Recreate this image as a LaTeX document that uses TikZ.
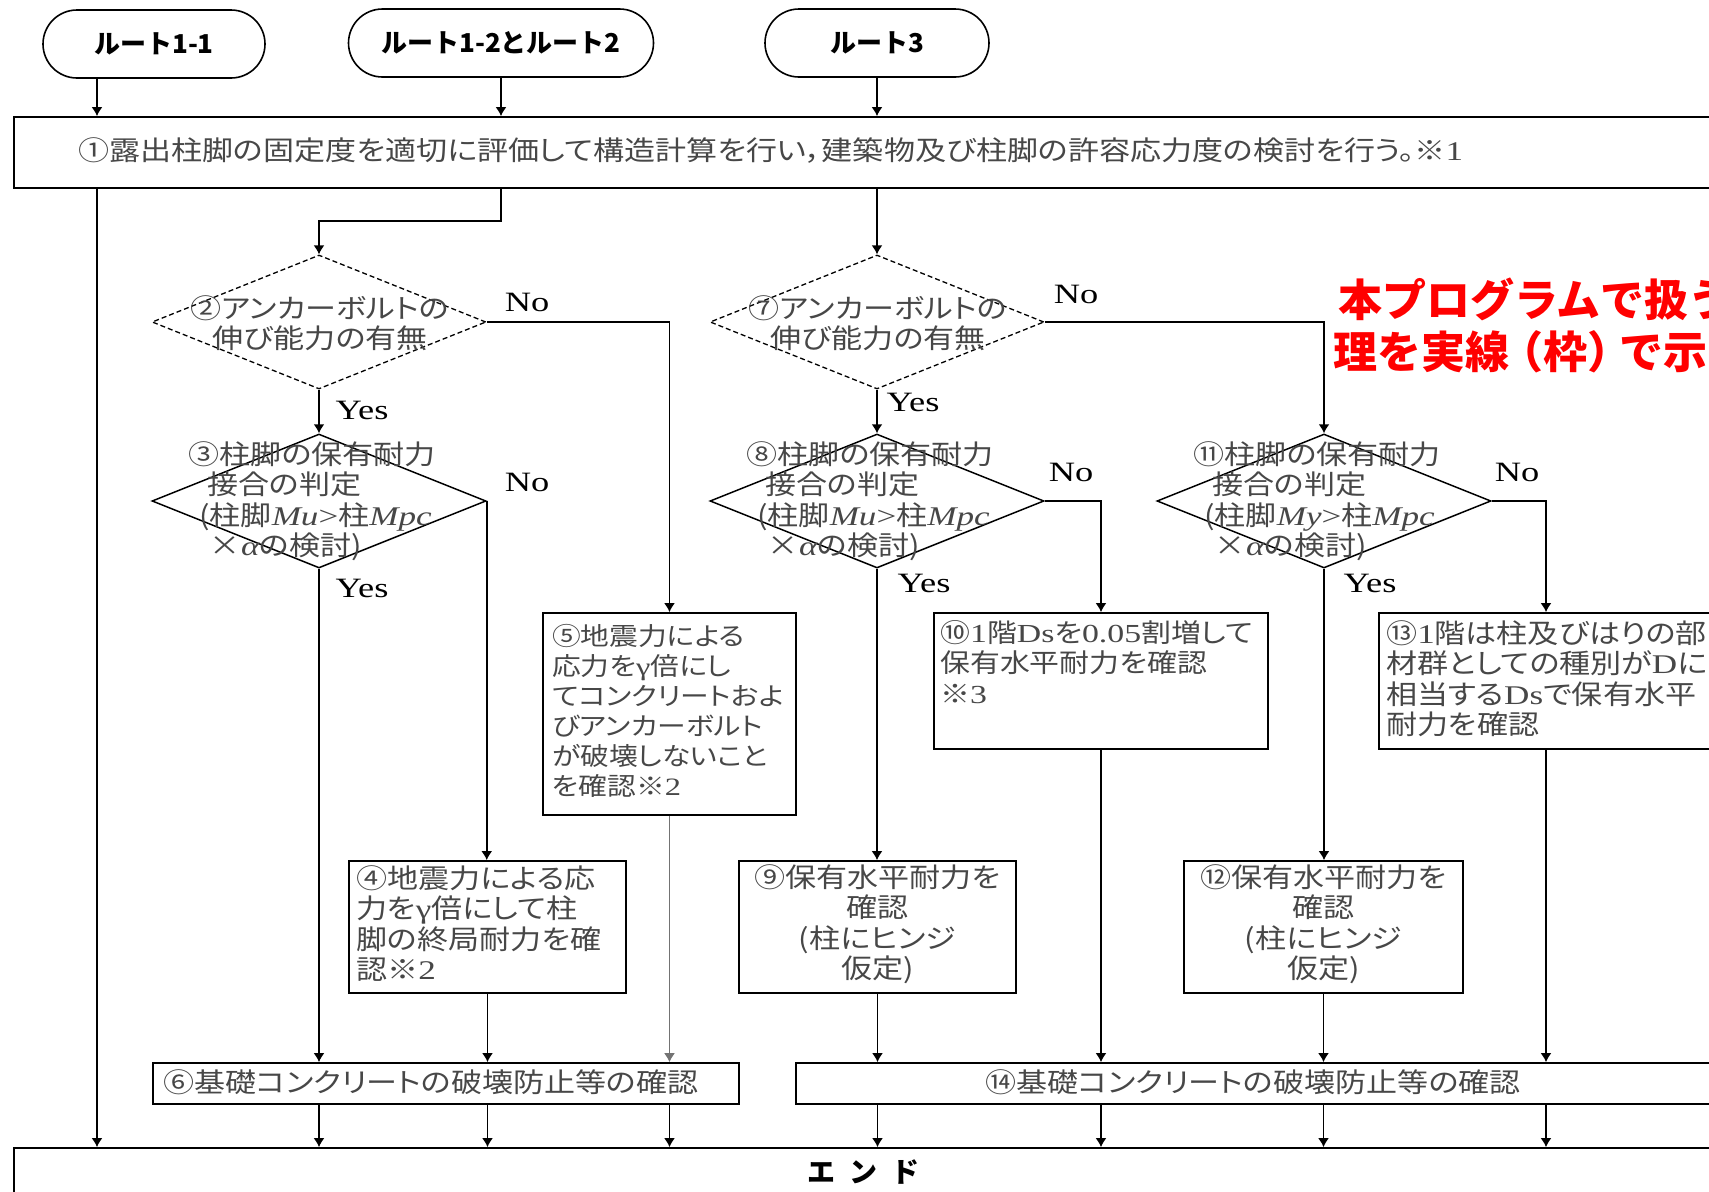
\documentclass[tikz,border=0pt]{standalone}
\usepackage{fontspec}
\usepackage{tikz}
\usetikzlibrary{shapes.geometric,shapes.misc,arrows.meta}
\newfontfamily\jpfont[FakeStretch=1.15,RawFeature=+palt]{Noto Sans CJK JP}
\newfontfamily\termfont{Noto Sans CJK JP}
\newfontfamily\latfont[FakeStretch=1.3]{Liberation Serif}
\newcommand\lat[1]{{\latfont #1}}
\tikzset{
  font={\jpfont\fontsize{27}{30.5}\selectfont},
  term/.style={rounded rectangle, draw, line width=1.6pt, minimum height=68pt, font={\termfont\bfseries\fontsize{26}{28}\selectfont}},
  box/.style={rectangle, draw, line width=1.8pt},
  dia/.style={diamond, draw, line width=1.5pt, minimum width=334pt, minimum height=134pt},
  dashdia/.style={dia, dash pattern=on 5pt off 3pt, line width=1.3pt},
  txt/.style={text=black!72, align=left},
  yn/.style={font={\latfont\fontsize{28}{30}\selectfont}},
  arr/.style={line width=1.5pt, -{Latex[length=9pt,width=11pt]}},
  note/.style={text=red, font={\termfont\bfseries\fontsize{44}{52}\selectfont}}
}
\begin{document}
\begin{tikzpicture}[x=1pt,y=-1pt]
\tikzstyle{every node}+=[inner sep=0pt]
\useasboundingbox (0,0) rectangle (1709,1192);
\clip (0,0) rectangle (1709,1192);
\node[term, minimum width=222pt] (t1) at (154,44) {ルート1-1};
\node[term, minimum width=305pt] (t2) at (501,43) {ルート1-2とルート2};
\node[term, minimum width=224pt] (t3) at (877,43) {ルート3};
\node[box, minimum width=1746pt, minimum height=71pt] (b1) at (887,152.5) {};
\node[txt, anchor=west] (b1t) at (78,151) {①露出柱脚の固定度を適切に評価して構造計算を行い，建築物及び柱脚の許容応力度の検討を行う。※\lat{1}};
\coordinate (c0) at (97,0);
\coordinate (k2) at (501,221);
\coordinate (c13) at (1546,0);
\node[dashdia] (d2) at (319,322) {};
\node[txt, align=center] (d2t) at (320,323) {②アンカーボルトの\\伸び能力の有無};
\node[dia] (d3) at (319,501) {};
\node[txt] (d3t) at (312,501) {③柱脚の保有耐力\\\hspace*{0.7em}接合の判定\\\hspace*{0.4em}(柱脚\lat{\itshape Mu}\lat{>}柱\lat{\itshape Mpc}\\\hspace*{0.8em}×\lat{\itshape α}の検討)};
\node[dashdia] (d7) at (877,322) {};
\node[txt, align=center] (d7t) at (878,323) {⑦アンカーボルトの\\伸び能力の有無};
\node[dia] (d8) at (877,501) {};
\node[txt] (d8t) at (870,501) {⑧柱脚の保有耐力\\\hspace*{0.7em}接合の判定\\\hspace*{0.4em}(柱脚\lat{\itshape Mu}\lat{>}柱\lat{\itshape Mpc}\\\hspace*{0.8em}×\lat{\itshape α}の検討)};
\node[dia] (d11) at (1324,501) {};
\node[txt] (d11t) at (1317,501) {⑪柱脚の保有耐力\\\hspace*{0.7em}接合の判定\\\hspace*{0.4em}(柱脚\lat{\itshape My}\lat{>}柱\lat{\itshape Mpc}\\\hspace*{0.8em}×\lat{\itshape α}の検討)};
\node[box, minimum width=253pt, minimum height=202pt] (b5) at (669.5,714) {};
\node[txt, anchor=north west, font={\jpfont\fontsize{25}{30}\selectfont}] (b5t) at (552,624) {⑤地震力による\\応力を\lat{γ}倍にし\\てコンクリートおよ\\びアンカーボルト\\が破壊しないこと\\を確認※\lat{2}};
\node[box, minimum width=277pt, minimum height=132pt] (b4) at (487.5,927) {};
\node[txt, anchor=north west] (b4t) at (356,865) {④地震力による応\\力を\lat{γ}倍にして柱\\脚の終局耐力を確\\認※\lat{2}};
\node[box, minimum width=586pt, minimum height=41pt] (b6) at (446,1083.5) {};
\node[txt, anchor=west] (b6t) at (163,1082) {⑥基礎コンクリートの破壊防止等の確認};
\node[box, minimum width=334pt, minimum height=136pt] (b10) at (1101,681) {};
\node[txt, anchor=north west, font={\jpfont\fontsize{26}{30.5}\selectfont}] (b10t) at (940,620) {⑩\lat{1}階\lat{Ds}を\lat{0.05}割増して\\保有水平耐力を確認\\※\lat{3}};
\node[box, minimum width=277pt, minimum height=132pt] (b9) at (877.5,927) {};
\node[txt, align=center] (b9t) at (877.5,924) {⑨保有水平耐力を\\確認\\(柱にヒンジ\\仮定)};
\node[box, minimum width=381pt, minimum height=136pt] (b13) at (1569.5,681) {};
\node[txt, anchor=north west] (b13t) at (1386,620) {⑬\lat{1}階は柱及びはりの部\\材群としての種別が\lat{D}に\\相当する\lat{Ds}で保有水平\\耐力を確認};
\node[box, minimum width=279pt, minimum height=132pt] (b12) at (1323.5,927) {};
\node[txt, align=center] (b12t) at (1323.5,924) {⑫保有水平耐力を\\確認\\(柱にヒンジ\\仮定)};
\node[box, minimum width=964pt, minimum height=41pt] (b14) at (1278,1083.5) {};
\node[txt] (b14t) at (1253,1082) {⑭基礎コンクリートの破壊防止等の確認};
\node[box, minimum width=1746pt, minimum height=82pt] (e) at (887,1189) {};
\node[font={\termfont\bfseries\fontsize{28}{30}\selectfont}] (et) at (863,1172) {エ\hspace{0.5em}ン\hspace{0.5em}ド};
\node[note, anchor=base west] (note1) at (1338,316) {本プログラムで扱う処};
\node[note, anchor=base west] (note2) at (1333,368) {理を実線\kern-10pt（枠）\kern-12pt で示す};
\node[yn] (n2) at (527,302) {No};
\node[yn] (y2) at (362,410) {Yes};
\node[yn] (n3) at (527,482) {No};
\node[yn] (y3) at (362,588) {Yes};
\node[yn] (n7) at (1076,294) {No};
\node[yn] (y7) at (913,402) {Yes};
\node[yn] (n8) at (1071,472) {No};
\node[yn] (y8) at (924,583) {Yes};
\node[yn] (n11) at (1517,472) {No};
\node[yn] (y11) at (1370,583) {Yes};
\draw[arr] (c0 |- t1.south) -- (c0 |- b1.north);
\draw[arr] (t2.south) -- (t2.south |- b1.north);
\draw[arr] (t3.south) -- (t3.south |- b1.north);
\draw[arr] (c0 |- b1.south) -- (c0 |- e.north);
\draw[arr] (k2 |- b1.south) -- (k2) -| (d2.north);
\draw[arr] (d7.north |- b1.south) -- (d7.north);
\draw[arr] (d2.south) -- (d3.north);
\draw[arr] (d2.east) -| (b5.north);
\draw[arr] (d3.east) -- (d3.east |- b4.north);
\draw[arr] (d3.south) -- (d3.south |- b6.north);
\draw[arr, black!55, line width=1.2pt] (b5.south) -- (b5.south |- b6.north);
\draw[arr] (b4.south) -- (b4.south |- b6.north);
\foreach \n in {d3,b4,b5} \draw[arr] (\n.south |- b6.south) -- (\n.south |- e.north);
\draw[arr] (d7.south) -- (d8.north);
\draw[arr] (d7.east) -| (d11.north);
\draw[arr] (d8.east) -| (b10.north);
\draw[arr] (d8.south) -- (d8.south |- b9.north);
\draw[arr] (d11.east) -| (c13 |- b13.north);
\draw[arr] (d11.south) -- (d11.south |- b12.north);
\foreach \n in {b9,b10,b12} \draw[arr] (\n.south) -- (\n.south |- b14.north);
\draw[arr] (c13 |- b13.south) -- (c13 |- b14.north);
\foreach \n in {b9,b10,b12} \draw[arr] (\n.south |- b14.south) -- (\n.south |- e.north);
\draw[arr] (c13 |- b14.south) -- (c13 |- e.north);
\end{tikzpicture}
\end{document}
